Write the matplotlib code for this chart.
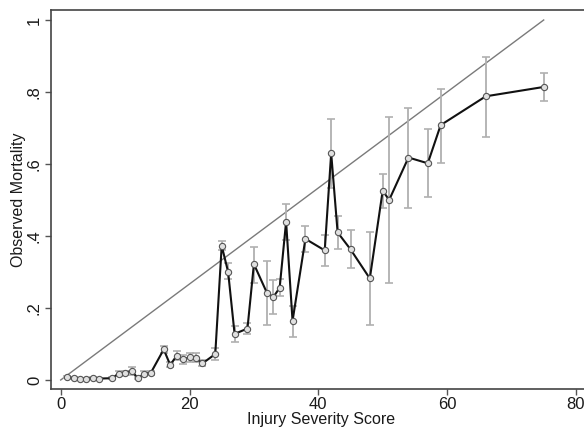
import matplotlib
matplotlib.use("Agg")
import matplotlib.pyplot as plt
import numpy as np

plt.rcParams['font.family'] = ['Liberation Sans', 'DejaVu Sans']

iss = [1, 2, 3, 4, 5, 6, 8, 9, 10, 11, 12, 13, 14, 16, 17, 18, 19, 20, 21, 22,
       24, 25, 26, 27, 29, 30, 32, 33, 34, 35, 36, 38, 41, 42, 43, 45, 48, 50,
       51, 54, 57, 59, 66, 75]
mortality = [.008, .005, .002, .004, .005, .004, .005, .018, .02, .025, .005, .018,
             .02, .085, .042, .067, .057, .063, .061, .046, .072, .373, .30, .128,
             .143, .322, .243, .23, .256, .44, .164, .392, .36, .63, .41, .363,
             .282, .526, .50, .618, .602, .708, .788, .814]
lower = [.006, .003, .001, .002, .003, .002, .002, .012, .014, .015, .002, .012,
         .014, .075, .035, .055, .045, .05, .05, .04, .056, .36, .28, .105,
         .127, .27, .153, .183, .233, .39, .12, .355, .318, .533, .364, .31,
         .153, .477, .269, .477, .507, .604, .676, .774]
upper = [.01, .007, .003, .006, .007, .006, .008, .024, .026, .035, .008, .024,
         .026, .095, .05, .08, .07, .075, .075, .055, .088, .387, .324, .15,
         .157, .37, .331, .278, .28, .49, .205, .429, .403, .724, .456, .417,
         .412, .572, .73, .755, .696, .807, .898, .853]
ref_x = [0, 75]
ref_y = [0, 1]
xticks = [0, 20, 40, 60, 80]
yticks = [0, .2, .4, .6, .8, 1]
ytick_labels = ['0', '.2', '.4', '.6', '.8', '1']

W, H = 584, 434
fig = plt.figure(figsize=(W / 100, H / 100), dpi=100)
ax = fig.add_axes([51 / W, (H - 389) / H, (592 - 51) / W, (389 - 10) / H])

x = np.array(iss)
y = np.array(mortality)
lo = np.array(lower)
hi = np.array(upper)

ax.plot(ref_x, ref_y, color='#7a7a7a', lw=1.0, zorder=1)
ax.errorbar(x, y, yerr=[y - lo, hi - y], fmt='none', ecolor='#b0b0b0',
            elinewidth=1.3, capsize=3, capthick=1.2, zorder=2)
ax.plot(x, y, color='#111111', lw=1.5, zorder=3)
ax.plot(x, y, 'o', ms=4.5, mfc='#e0e0e0', mec='#555555', mew=0.8, zorder=4)

ax.set_xlim((51 - 60.7) / 6.44, (592 - 60.7) / 6.44)
ax.set_ylim((380 - 389) / 360, (380 - 10) / 360)
ax.set_xticks(xticks)
ax.set_yticks(yticks)
ax.set_yticklabels(ytick_labels, rotation=90, va='center')
ax.tick_params(axis='both', direction='out', length=4.5, width=1.0,
               color='#555555', labelsize=12, labelcolor='#1a1a1a')
ax.tick_params(axis='y', pad=2)
ax.tick_params(axis='x', pad=1)
for s in ax.spines.values():
    s.set_color('#444444')
    s.set_linewidth(1.2)

ax.set_xlabel('Injury Severity Score', fontsize=11.5, labelpad=0.5, color='#1a1a1a')
ax.set_ylabel('Observed Mortality', fontsize=11.5, labelpad=1, color='#1a1a1a')

fig.savefig('out.png', dpi=100)
